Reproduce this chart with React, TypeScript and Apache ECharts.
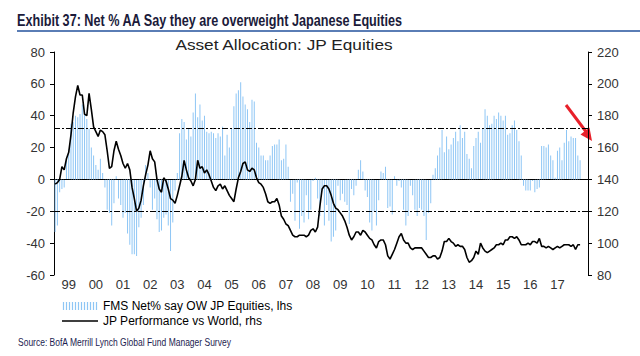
import React, { useEffect, useRef } from "react";
import * as echarts from "echarts";

// ---- Text ----
const TITLE = "Exhibit 37: Net % AA Say they are overweight Japanese Equities";
const SUBTITLE = "Asset Allocation: JP Equities";
const SOURCE = "Source: BofA Merrill Lynch Global Fund Manager Survey";
const LEGEND_FMS = "FMS Net% say OW JP Equities, lhs";
const LEGEND_PERF = "JP Performance vs World, rhs";

// ---- Axes ----
const FIRST_YEAR = 1999;
const AXIS_MONTHS = 236; // Jan 1999 .. Aug 2018
const LEFT_TICKS = { min: -60, max: 80, interval: 20 };
const RIGHT_TICKS = { min: 80, max: 220, interval: 20 };
const THRESHOLDS = [32, -20];

// ---- FMS Net % overweight Japanese equities (monthly, lhs) ----
const FMS_1999 = [-33, -29, -8, -6, -5, 12, 19, 35, 36, 40, 39, 41];
const FMS_2000 = [47, 41, 38, 32, 20, 15, 9, 6, 13, 4, -5, -19];
const FMS_2001 = [-21, -29, -15, 2, -12, -16, -24, -21, -34, -41, -47, -47];
const FMS_2002 = [-48, -30, -24, -16, 9, 4, -5, -19, -12, -25, -33, -32];
const FMS_2003 = [-24, -22, -29, -45, -27, -7, 4, 29, 38, 36, 25, 32];
const FMS_2004 = [27, 42, 54, 39, 47, 37, 40, 30, 29, 30, 29, 26];
const FMS_2005 = [29, 27, 33, 15, 28, 20, 32, 46, 54, 56, 61, 52];
const FMS_2006 = [47, 44, 36, 50, 49, 23, 20, 15, 15, 12, 12, 15];
const FMS_2007 = [21, 22, 22, 25, 12, 13, 22, 8, -14, -9, -26, -2];
const FMS_2008 = [-31, -23, -27, -10, -25, -19, -1, 1, -12, -23, -7, -29];
const FMS_2009 = [-16, -26, -39, -36, -32, -4, -13, -9, -14, -16, -28, -6];
const FMS_2010 = [-10, -4, 6, 12, 5, -7, -11, -27, -32, -20, -29, -13];
const FMS_2011 = [5, 4, 8, -18, -17, -22, 2, -4, -1, -5, -19, -29];
const FMS_2012 = [-23, -4, -10, -19, -23, -18, -19, -23, -38, -21, -15, 3];
const FMS_2013 = [7, 15, 20, 31, 17, 27, 19, 22, 26, 30, 24, 34];
const FMS_2014 = [26, 30, 16, 13, 7, 21, 26, 30, 23, 32, 44, 40];
const FMS_2015 = [34, 35, 40, 38, 42, 40, 37, 40, 28, 29, 34, 37];
const FMS_2016 = [31, 24, 15, -4, -7, -7, -7, -1, -8, -6, -5, 21];
const FMS_2017 = [21, 20, 22, 15, 12, 1, 18, 20, 12, 23, 31, 24];
const FMS_2018 = [27, 26, 26, 15, 12];

// ---- JP performance vs World (monthly, rhs) ----
const PERF_1999 = [137, 138, 140, 148, 146, 153, 157, 168, 182, 192, 199, 193];
const PERF_2000 = [193, 181, 180, 194, 184, 173, 170, 167, 171, 170, 168, 158];
const PERF_2001 = [147, 148, 158, 164, 159, 155, 150, 147, 150, 146, 135, 128];
const PERF_2002 = [120, 122, 127, 136, 143, 149, 158, 153, 151, 140, 134, 132];
const PERF_2003 = [141, 139, 134, 128, 127, 125, 130, 136, 142, 152, 146, 141];
const PERF_2004 = [139, 136, 140, 152, 147, 148, 144, 146, 143, 139, 135, 133];
const PERF_2005 = [136, 137, 134, 136, 133, 130, 128, 126, 134, 141, 145, 150];
const PERF_2006 = [151, 146, 145, 147, 146, 141, 138, 137, 135, 131, 126, 125];
const PERF_2007 = [126, 126, 128, 124, 117, 115, 112, 111, 108, 105, 104, 104];
const PERF_2008 = [105, 105, 105, 104, 105, 108, 109, 107, 110, 123, 134, 136];
const PERF_2009 = [136, 134, 130, 125, 122, 121, 119, 117, 114, 110, 105, 102];
const PERF_2010 = [104, 107, 107, 105, 108, 107, 105, 103, 102, 99, 97, 101];
const PERF_2011 = [102, 102, 99, 92, 90, 93, 96, 100, 104, 106, 102, 100];
const PERF_2012 = [100, 97, 96, 97, 97, 97, 97, 95, 93, 91, 91, 92];
const PERF_2013 = [92, 90, 91, 95, 101, 101, 103, 101, 100, 98, 99, 98];
const PERF_2014 = [98, 96, 91, 88, 89, 91, 95, 93, 100, 97, 95, 94];
const PERF_2015 = [95, 96, 97, 99, 99, 100, 99, 102, 102, 104, 104, 103];
const PERF_2016 = [104, 102, 99, 99, 99, 100, 99, 101, 101, 100, 103, 98];
const PERF_2017 = [98, 97, 98, 97, 96, 97, 98, 97, 98, 99, 99, 99];
const PERF_2018 = [98, 99, 96, 99, 99];

const FMS = [
  ...FMS_1999, ...FMS_2000, ...FMS_2001, ...FMS_2002, ...FMS_2003, ...FMS_2004,
  ...FMS_2005, ...FMS_2006, ...FMS_2007, ...FMS_2008, ...FMS_2009, ...FMS_2010,
  ...FMS_2011, ...FMS_2012, ...FMS_2013, ...FMS_2014, ...FMS_2015, ...FMS_2016,
  ...FMS_2017, ...FMS_2018,
];
const PERF = [
  ...PERF_1999, ...PERF_2000, ...PERF_2001, ...PERF_2002, ...PERF_2003, ...PERF_2004,
  ...PERF_2005, ...PERF_2006, ...PERF_2007, ...PERF_2008, ...PERF_2009, ...PERF_2010,
  ...PERF_2011, ...PERF_2012, ...PERF_2013, ...PERF_2014, ...PERF_2015, ...PERF_2016,
  ...PERF_2017, ...PERF_2018,
];

const MONTHS: string[] = [];
for (let k = 0; k < AXIS_MONTHS; k++) {
  const y = FIRST_YEAR + Math.floor(k / 12);
  const m = (k % 12) + 1;
  MONTHS.push(`${y}-${m < 10 ? "0" + m : m}`);
}
const LAST_LABEL_INDEX = (2017 - FIRST_YEAR) * 12 + 6;

// legend icons (36 x 8 boxes)
let barIcon = "path://";
for (let i = 0; i < 12; i++) barIcon += `M${i * 3},0h1.2v8h-1.2z`;
const lineIcon = "path://M0,0h0.01v0.01h-0.01zM0,3.3h36v1.4h-36zM35.99,7.99h0.01v0.01h-0.01z";

const BAR_COLOR = "#8EC6F5";
const FONT = "Arial, 'Liberation Sans', sans-serif";

export default function App() {
  const ref = useRef<HTMLDivElement>(null);
  useEffect(() => {
    document.body.style.margin = "0";
    if (!ref.current) return;
    const chart = echarts.init(ref.current, undefined, { renderer: "svg" });
    const axisLabel = { color: "#333", fontSize: 13, fontFamily: FONT };
    chart.setOption({
      animation: false,
      grid: { left: 54, right: 52, top: 52, bottom: 81 },
      legend: {
        orient: "vertical",
        left: 57,
        top: 295,
        itemWidth: 36,
        itemHeight: 8,
        itemGap: 3,
        selectedMode: false,
        textStyle: { fontSize: 12, fontFamily: FONT, color: "#000", lineHeight: 12 },
        data: [
          { name: LEGEND_FMS, icon: barIcon },
          { name: LEGEND_PERF, icon: lineIcon },
        ],
      },
      xAxis: {
        type: "category",
        data: MONTHS,
        boundaryGap: true,
        axisLine: { lineStyle: { color: "#000", width: 1 } },
        axisTick: {
          interval: (i: number) => i % 12 === 0,
          length: 4,
          lineStyle: { color: "#000" },
        },
        axisLabel: {
          ...axisLabel,
          margin: 3,
          interval: (i: number) => i % 12 === 6 && i <= LAST_LABEL_INDEX,
          formatter: (v: string) => v.slice(2, 4),
        },
        splitLine: { show: false },
      },
      yAxis: [
        {
          type: "value",
          position: "left",
          ...LEFT_TICKS,
          axisLine: { show: true, lineStyle: { color: "#000" } },
          axisTick: { show: true, length: 4, lineStyle: { color: "#000" } },
          axisLabel: { ...axisLabel, margin: 9 },
          splitLine: { show: false },
        },
        {
          type: "value",
          position: "right",
          ...RIGHT_TICKS,
          axisLine: { show: true, lineStyle: { color: "#000" } },
          axisTick: { show: true, length: 4, lineStyle: { color: "#000" } },
          axisLabel: { ...axisLabel, margin: 9 },
          splitLine: { show: false },
        },
      ],
      series: [
        {
          name: LEGEND_FMS,
          type: "bar",
          data: FMS,
          barWidth: 1,
          itemStyle: { color: BAR_COLOR },
          markLine: {
            silent: true,
            symbol: "none",
            label: { show: false },
            data: [
              ...THRESHOLDS.map((t) => ({
                yAxis: t,
                lineStyle: { color: "#000", width: 1, type: [6, 2, 2, 2] },
              })),
              { yAxis: 0, lineStyle: { color: "#000", width: 1, type: [1, 1] } },
            ],
          },
        },
        {
          name: LEGEND_PERF,
          type: "line",
          yAxisIndex: 1,
          data: PERF,
          showSymbol: false,
          symbol: "none",
          lineStyle: { color: "#000", width: 1.6 },
          itemStyle: { color: "#000" },
          z: 5,
        },
      ],
      graphic: [
        {
          type: "text",
          x: 17,
          y: 12,
          scaleX: 0.79,
          style: {
            text: TITLE,
            font: `bold 16px ${FONT}`,
            fill: "#1b1b3a",
            verticalAlign: "top",
          },
        },
        { type: "rect", shape: { x: 17, y: 30, width: 623, height: 2 }, style: { fill: "#5A7DB5" } },
        {
          type: "text",
          x: 284,
          y: 37,
          scaleX: 1.15,
          style: {
            text: SUBTITLE,
            font: `15px ${FONT}`,
            fill: "#222",
            align: "center",
            verticalAlign: "top",
          },
        },
        {
          type: "text",
          x: 18,
          y: 338,
          scaleX: 0.85,
          style: { text: SOURCE, font: `10px ${FONT}`, fill: "#1c1c50", verticalAlign: "top" },
        },
        {
          type: "line",
          shape: { x1: 566, y1: 105, x2: 587, y2: 133 },
          style: { stroke: "#E8202A", lineWidth: 3 },
        },
        {
          type: "polygon",
          shape: { points: [[592, 141], [580.5, 134.5], [589.5, 127.5]] },
          style: { fill: "#E8202A" },
        },
      ],
    });
    return () => chart.dispose();
  }, []);
  return <div ref={ref} style={{ width: 640, height: 356 }} />;
}
